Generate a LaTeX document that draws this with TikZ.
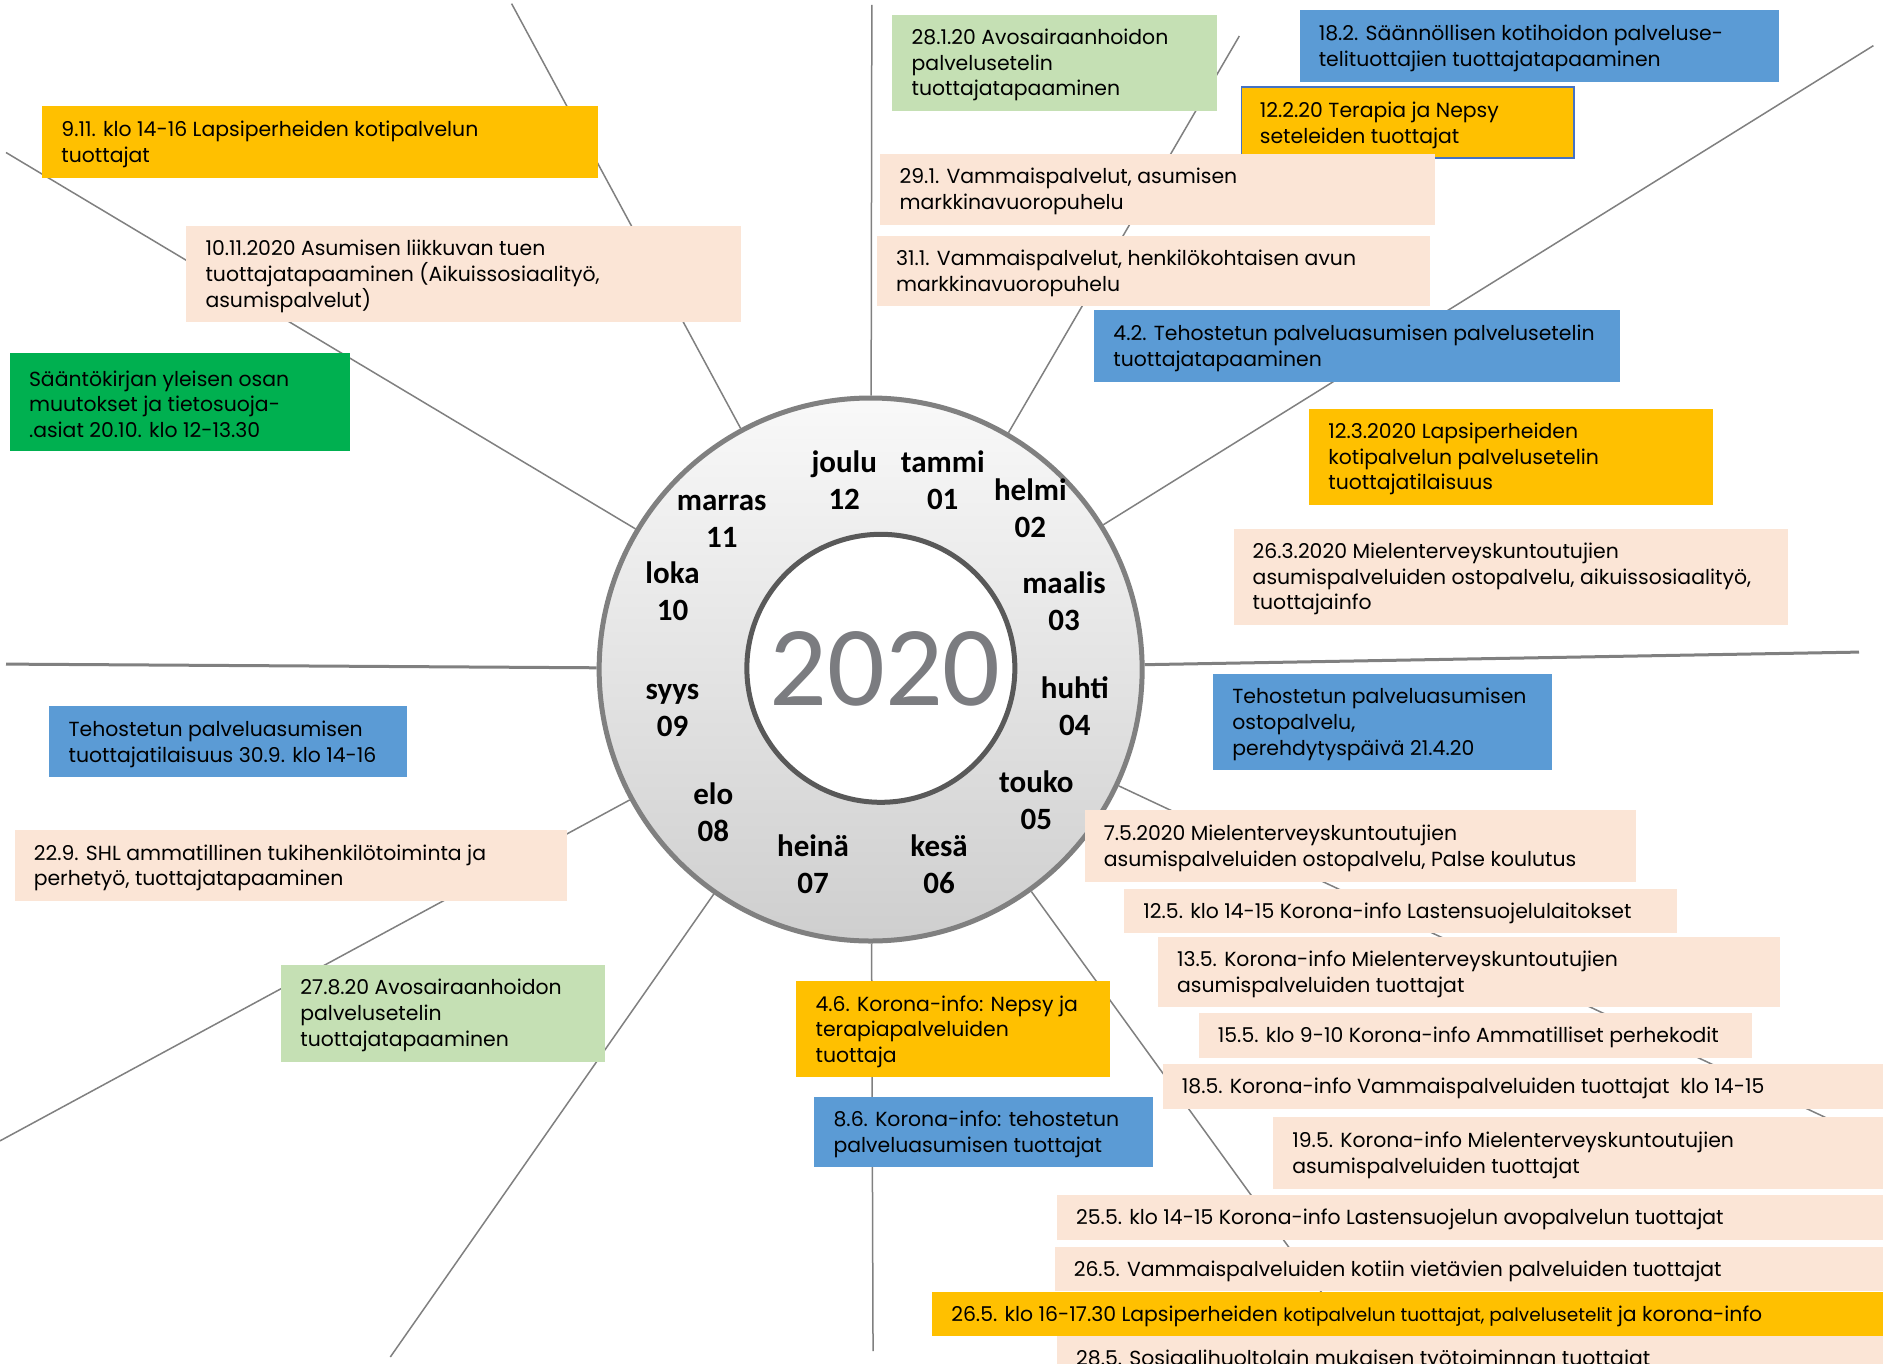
\documentclass[tikz,border=0pt]{standalone}
\usepackage{fontspec}
\setmainfont{Poppins}
\newfontfamily\kkfont{Carlito}

\definecolor{kelta}{HTML}{FFC000}
\definecolor{persikka}{HTML}{FBE5D6}
\definecolor{vihrea}{HTML}{00B050}
\definecolor{vaalvihr}{HTML}{C5E0B4}
\definecolor{sini}{HTML}{5B9BD5}
\definecolor{reuna}{HTML}{4472C4}
\definecolor{puola}{HTML}{808080}
\definecolor{vuosi}{HTML}{7B7C80}

\tikzset{
  spoke/.style={draw=puola, line width=1.5pt},
  hspoke/.style={draw=puola, line width=3pt},
  evt/.style={anchor=north west, inner sep=0pt},
  evtext/.style={anchor=west, inner sep=0pt, align=left,
    font=\fontsize{20.4}{25.8}\selectfont},
  boxor/.style={fill=kelta},
  boxol/.style={fill=kelta, draw=reuna, line width=1.5pt},
  boxpe/.style={fill=persikka},
  boxgr/.style={fill=vihrea},
  boxlg/.style={fill=vaalvihr},
  boxbl/.style={fill=sini},
  month/.style={align=center, font=\kkfont\bfseries\fontsize{31}{37}\selectfont},
}

\begin{document}
\begin{tikzpicture}[x=1.2009pt,y=-1.2009pt]
  \def\evbox#1#2#3#4#5#6#7{%
    \pgfmathsetmacro\bw{(#5-#3)*1.2009}
    \pgfmathsetmacro\bh{(#6-#4)*1.2009}
    \node[evt, #2, minimum width=\bw pt, minimum height=\bh pt] (#1) at (#3,#4) {};
    \node[evtext] (#1-t) at ([xshift=19.2pt,yshift=-2.4pt]#1.west) {#7};
  }

  \useasboundingbox (0,0) rectangle (1568,1135);
  \fill[white] (0,0) rectangle (1568,1135);

  % the wheel
  \node[circle, minimum size=543pt, inner sep=0pt, draw=puola, line width=5pt,
    top color=gray!5, bottom color=gray!38] (wheel) at (725,557.5) {};
  \node[circle, minimum size=268pt, inner sep=0pt, draw=black!65, line width=5pt,
    fill=white] (core) at (733.5,556.5) {};
  \node[text=vuosi, font=\kkfont\fontsize{114}{114}\selectfont] (year) at (737,557) {2020};

  \foreach \kk/\nr/\x/\y in {tammi/01/785/400, helmi/02/858/423, maalis/03/886/501,
    huhti/04/895/588, touko/05/863/666, kesä/06/782/720, heinä/07/677/720,
    elo/08/594/676, syys/09/560/592, loka/10/560/492, marras/11/601/434,
    joulu/12/703/400}
    \node[month] (m\nr) at (\x,\y) {\kk\\\nr};

  % spokes
  \foreach \s/\x/\y in {s12/726/4, s1/1032/30, s2/1560/38, s4/1568/953,
    s5/1143/1135, s6/727/1125, s7/325/1130, s8/0/950, s10/5/127, s11/426/3}{
    \coordinate (\s) at (\x,\y);
    \draw[spoke] (wheel) -- (\s);
  }
  \coordinate (s3) at (1548,543);
  \coordinate (s9) at (5,553);
  \draw[hspoke] (wheel) -- (s3);
  \draw[hspoke] (wheel) -- (s9);

  % events, left side
  \evbox{nov9}{boxor}{35}{88}{498}{148}{9.11. klo 14-16 Lapsiperheiden kotipalvelun\\tuottajat}
  \evbox{nov10}{boxpe}{155}{188}{617}{268}{10.11.2020 Asumisen liikkuvan tuen\\tuottajatapaaminen (Aikuissosiaalityö,\\asumispalvelut)}
  \evbox{oct20}{boxgr}{8}{294}{291}{375}{Sääntökirjan yleisen osan\\muutokset ja tietosuoja-\\.asiat 20.10. klo 12-13.30}
  \evbox{sep30}{boxbl}{41}{588}{339}{647}{Tehostetun palveluasumisen\\tuottajatilaisuus 30.9. klo 14-16}
  \evbox{sep22}{boxpe}{12}{691}{472}{750}{22.9. SHL ammatillinen tukihenkilötoiminta ja\\perhetyö, tuottajatapaaminen}
  \evbox{aug27}{boxlg}{234}{803}{504}{884}{27.8.20 Avosairaanhoidon\\palvelusetelin\\tuottajatapaaminen}

  % events, top
  \evbox{jan28}{boxlg}{743}{12}{1013}{92}{28.1.20 Avosairaanhoidon\\palvelusetelin\\tuottajatapaaminen}
  \evbox{feb18}{boxbl}{1082}{8}{1481}{68}{18.2. Säännöllisen kotihoidon palveluse-\\telituottajien tuottajatapaaminen}
  \evbox{feb12}{boxol}{1033}{72}{1310}{131}{12.2.20 Terapia ja Nepsy\\seteleiden tuottajat}
  \evbox{jan29}{boxpe}{733}{128}{1195}{187}{29.1. Vammaispalvelut, asumisen\\markkinavuoropuhelu}
  \evbox{jan31}{boxpe}{730}{196}{1191}{255}{31.1. Vammaispalvelut, henkilökohtaisen avun\\markkinavuoropuhelu}
  \evbox{feb4}{boxbl}{911}{258}{1349}{318}{4.2. Tehostetun palveluasumisen palvelusetelin\\tuottajatapaaminen}

  % events, right side
  \evbox{mar12}{boxor}{1090}{340}{1426}{420}{12.3.2020 Lapsiperheiden\\kotipalvelun palvelusetelin\\tuottajatilaisuus}
  \evbox{mar26}{boxpe}{1027}{440}{1489}{520}{26.3.2020 Mielenterveyskuntoutujien\\asumispalveluiden ostopalvelu, aikuissosiaalityö,\\tuottajainfo}
  \evbox{apr21}{boxbl}{1010}{561}{1292}{641}{Tehostetun palveluasumisen\\ostopalvelu,\\perehdytyspäivä 21.4.20}
  \evbox{may7}{boxpe}{903}{674}{1362}{734}{7.5.2020 Mielenterveyskuntoutujien\\asumispalveluiden ostopalvelu, Palse koulutus}
  \evbox{may12}{boxpe}{936}{740}{1396}{777}{12.5. klo 14-15 Korona-info Lastensuojelulaitokset}
  \evbox{may13}{boxpe}{964}{780}{1482}{838}{13.5. Korona-info Mielenterveyskuntoutujien\\asumispalveluiden tuottajat}
  \evbox{may15}{boxpe}{998}{843}{1459}{881}{15.5. klo 9-10 Korona-info Ammatilliset perhekodit}
  \evbox{may18}{boxpe}{968}{886}{1568}{923}{18.5. Korona-info Vammaispalveluiden tuottajat~~klo 14-15}
  \evbox{may19}{boxpe}{1060}{930}{1568}{990}{19.5. Korona-info Mielenterveyskuntoutujien\\asumispalveluiden tuottajat}
  \evbox{may25}{boxpe}{880}{995}{1568}{1032}{25.5. klo 14-15 Korona-info Lastensuojelun avopalvelun tuottajat}
  \evbox{may26}{boxpe}{878}{1038}{1568}{1075}{26.5. Vammaispalveluiden kotiin vietävien palveluiden tuottajat}
  \evbox{may26b}{boxor}{776}{1076}{1568}{1112}{26.5. klo 16-17.30 Lapsiperheiden {\fontsize{18.5}{25.8}\selectfont kotipalvelun tuottajat, palvelusetelit} ja korona-info}
  \evbox{may28}{boxpe}{880}{1112}{1568}{1150}{28.5. Sosiaalihuoltolain mukaisen työtoiminnan tuottajat}

  % events, bottom
  \evbox{jun4}{boxor}{663}{817}{924}{897}{4.6. Korona-info: Nepsy ja\\terapiapalveluiden\\tuottaja}
  \evbox{jun8}{boxbl}{678}{913}{960}{972}{8.6. Korona-info: tehostetun\\palveluasumisen tuottajat}
\end{tikzpicture}
\end{document}
